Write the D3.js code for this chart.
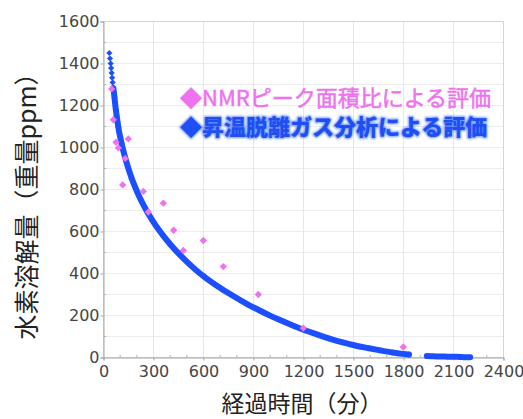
<!DOCTYPE html>
<html>
<head>
<meta charset="utf-8">
<script src="https://cdn.jsdelivr.net/npm/d3@7"></script>
<style>
  html, body { margin: 0; padding: 0; background: #ffffff; }
  svg { display: block; }
</style>
</head>
<body>
<svg id="chart" width="523" height="419"></svg>
<script>
// Hydrogen content (mass ppm) vs elapsed time (min)

// NMR peak-area evaluation
const nmrTime  = [49, 59, 75, 89, 115, 130, 149, 239, 269, 359, 421, 479, 599, 719, 929, 1199, 1799];
const nmrValue = [1279, 1132, 1025, 998, 822, 948, 1041, 791, 693, 735, 606, 510, 557, 433, 300, 140, 50];

// Thermal desorption (TDS) evaluation, first run
const tdsTime  = [35, 39, 43, 46, 49, 52, 55, 59, 63, 66, 69, 74, 79, 84, 89, 94, 99, 109, 119, 129, 139, 154, 169, 190,
                  220, 262, 300, 333, 400, 469, 520, 570, 609, 680, 749, 870, 949, 990, 1059, 1149, 1200, 1280, 1360,
                  1435, 1510, 1585, 1660, 1735, 1810, 1833];
const tdsValue = [1450, 1424, 1400, 1378, 1355, 1332, 1310, 1283, 1258, 1238, 1214, 1180, 1150, 1122, 1097, 1074, 1054,
                  1018, 985, 955, 927, 889, 854, 811, 757, 694, 645, 607, 539, 480, 441, 406, 382, 342, 307, 251, 219,
                  203, 178, 148, 132, 110, 89, 72, 57, 45, 34, 24, 16, 14];

// Thermal desorption evaluation, later run
const tdsTimeLate  = [1940, 1970, 2000, 2030, 2060, 2090, 2120, 2150, 2180, 2200];
const tdsValueLate = [7, 6, 5, 5, 4, 3, 3, 2, 1, 1];

// Axis ticks
const xTicks = [0, 300, 600, 900, 1200, 1500, 1800, 2100, 2400];
const yTicks = [0, 200, 400, 600, 800, 1000, 1200, 1400, 1600];

// Legend entries
const legendLabels = ["◆NMRピーク面積比による評価", "◆昇温脱離ガス分析による評価"];

const pink = "#ee72ee";
const blue = "#1c4fff";

const svg = d3.select("#chart");
const plotL = 103.5, plotR = 503.5, plotT = 21.5, plotB = 357.5;

const x = d3.scaleLinear().domain([0, 2400]).range([plotL, plotR]);
const y = d3.scaleLinear().domain([0, 1600]).range([plotB, plotT]);

// grid
const grid = svg.append("g");
grid.selectAll("line.h").data(d3.range(100, 1600, 100)).join("line")
  .attr("x1", plotL).attr("x2", plotR)
  .attr("y1", d => y(d)).attr("y2", d => y(d))
  .attr("stroke", "#ededed").attr("stroke-width", 1);
grid.selectAll("line.v").data(xTicks.slice(1, -1)).join("line")
  .attr("y1", plotT).attr("y2", plotB)
  .attr("x1", d => x(d)).attr("x2", d => x(d))
  .attr("stroke", "#e6e6e6").attr("stroke-width", 1);

// frame
svg.append("rect")
  .attr("x", plotL).attr("y", plotT)
  .attr("width", plotR - plotL).attr("height", plotB - plotT)
  .attr("fill", "none").attr("stroke", "#d4d4d4");

// axes
const tickFont = "'DejaVu Sans', sans-serif";
const xAxis = d3.axisBottom(x).tickValues(xTicks).tickSize(3).tickPadding(5).tickFormat(d3.format("d"));
const yAxis = d3.axisLeft(y).tickValues(yTicks).tickSize(3).tickPadding(1).tickFormat(d3.format("d"));

const gx = svg.append("g").attr("transform", `translate(0,${plotB})`).call(xAxis);
const gy = svg.append("g").attr("transform", `translate(${plotL},0)`).call(yAxis);
[gx, gy].forEach(g => {
  g.select(".domain").attr("stroke", "#a8a8a8");
  g.selectAll(".tick line").attr("stroke", "#a8a8a8");
  g.selectAll(".tick text")
    .attr("fill", "#454545")
    .style("font-family", tickFont)
    .style("font-size", "16px");
});

// minor ticks
svg.append("g").selectAll("line").data(d3.range(100, 2400, 100).filter(d => d % 300 !== 0)).join("line")
  .attr("x1", d => x(d)).attr("x2", d => x(d))
  .attr("y1", plotB).attr("y2", plotB - 2.5)
  .attr("stroke", "#b0b0b0");
svg.append("g").selectAll("line").data(d3.range(100, 1600, 200)).join("line")
  .attr("x1", plotL).attr("x2", plotL + 2.5)
  .attr("y1", d => y(d)).attr("y2", d => y(d))
  .attr("stroke", "#b0b0b0");

// TDS series: dense measurement drawn as a thick trace plus diamond markers
const tds = tdsTime.map((t, i) => ({ t, v: tdsValue[i] }));
const tdsLate = tdsTimeLate.map((t, i) => ({ t, v: tdsValueLate[i] }));

const trace = d3.line().x(d => x(d.t)).y(d => y(d.v)).curve(d3.curveMonotoneX);
svg.append("path")
  .datum(tds.filter(d => d.t >= 59))
  .attr("d", trace)
  .attr("fill", "none").attr("stroke", blue)
  .attr("stroke-width", 6).attr("stroke-linecap", "round");
svg.append("path")
  .datum(tdsLate)
  .attr("d", trace)
  .attr("fill", "none").attr("stroke", blue)
  .attr("stroke-width", 6).attr("stroke-linecap", "round");

const diamond = (area) => d3.symbol(d3.symbolSquare, area)();

svg.append("g").selectAll("path").data(tds).join("path")
  .attr("d", diamond(19))
  .attr("transform", d => `translate(${x(d.t)},${y(d.v)}) rotate(45)`)
  .attr("fill", blue);

// NMR series
const nmr = nmrTime.map((t, i) => ({ t, v: nmrValue[i] }));
svg.append("g").selectAll("path").data(nmr).join("path")
  .attr("d", diamond(27))
  .attr("transform", d => `translate(${x(d.t)},${y(d.v)}) rotate(45)`)
  .attr("fill", pink);

// legend
const defs = svg.append("defs");
defs.append("filter").attr("id", "halo")
  .attr("x", "-5%").attr("y", "-30%").attr("width", "110%").attr("height", "160%")
  .append("feGaussianBlur").attr("stdDeviation", 1.2);

const cjk = "'Noto Sans CJK JP', sans-serif";
const leg = svg.append("g").style("font-family", cjk).style("font-size", "22px");
leg.append("text")
  .attr("x", 180).attr("y", 96).attr("dominant-baseline", "central")
  .attr("fill", pink).attr("stroke", pink).attr("stroke-width", 0.5)
  .text(legendLabels[0]);
leg.append("text")
  .attr("x", 180).attr("y", 125).attr("dominant-baseline", "central")
  .attr("fill", "#4d7dff").attr("stroke", "#4d7dff").attr("stroke-width", 2)
  .attr("font-weight", 900).attr("filter", "url(#halo)").attr("opacity", 0.8)
  .text(legendLabels[1]);
leg.append("text")
  .attr("x", 180).attr("y", 125).attr("dominant-baseline", "central")
  .attr("fill", "#1f4ff2").attr("font-weight", 900)
  .text(legendLabels[1]);

// axis titles
svg.append("text")
  .attr("transform", "translate(25,200) rotate(-90)")
  .attr("text-anchor", "middle").attr("dominant-baseline", "central")
  .style("font-family", cjk).style("font-size", "25px").attr("fill", "#222")
  .text("水素溶解量（重量ppm）");
svg.append("text")
  .attr("x", 302).attr("y", 402)
  .attr("text-anchor", "middle").attr("dominant-baseline", "central")
  .style("font-family", cjk).style("font-size", "23px").attr("fill", "#222")
  .text("経過時間（分）");
</script>
</body>
</html>
